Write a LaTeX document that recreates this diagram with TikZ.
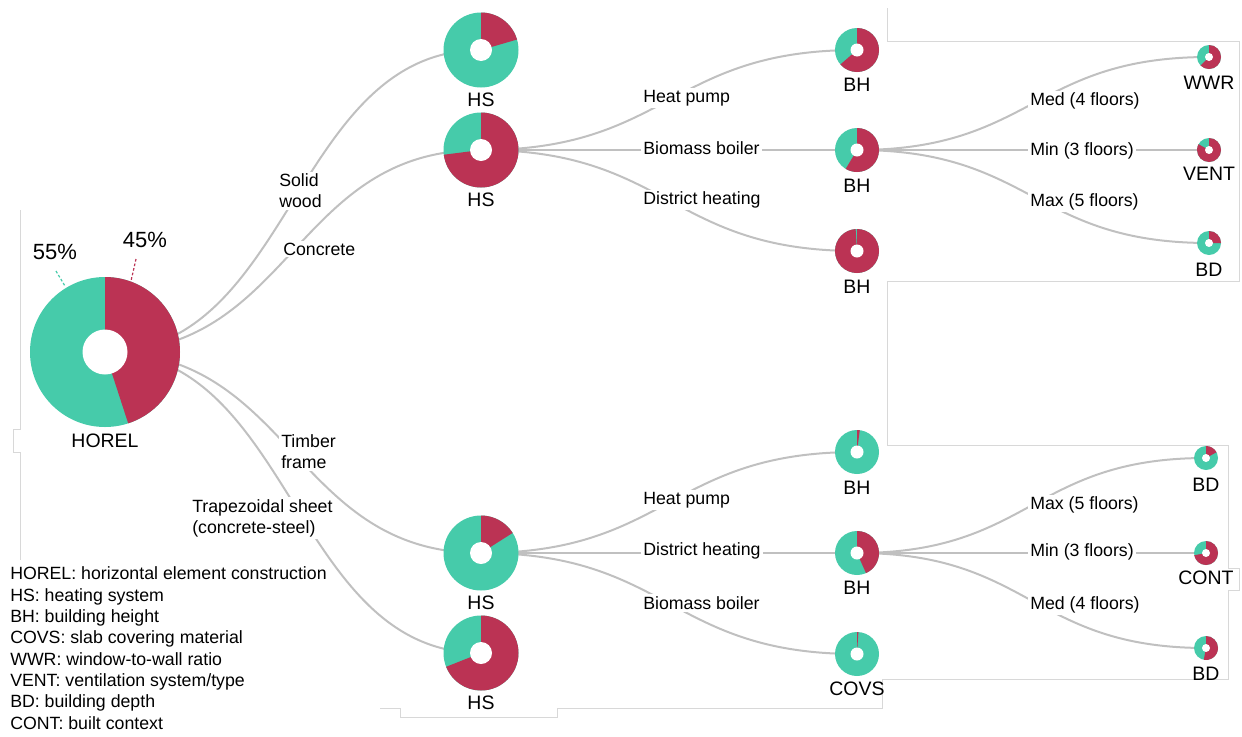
\documentclass[tikz,border=0pt]{standalone}
\usepackage{fontspec}
\setmainfont{Liberation Sans}
\usetikzlibrary{calc,positioning}
\definecolor{hsteal}{RGB}{70,203,170}
\definecolor{hsred}{RGB}{187,51,84}
\definecolor{linkgray}{RGB}{192,192,192}
\definecolor{framegray}{RGB}{216,216,216}

% donut: centre, outer radius, inner radius, red share
\newcommand{\donut}[4]{%
  \fill[hsteal] (#1) circle[radius=#2];
  \fill[hsred] (#1) -- ++(90:#2) arc[start angle=90, end angle={90-360*#4}, radius=#2] -- cycle;
  \fill[white] (#1) circle[radius=#3];
}

\begin{document}
\begin{tikzpicture}[x=0.75pt, y=0.75pt,
  link/.style={draw=linkgray, line width=1.5pt,
    to path={let \p1=(\tikztostart), \p2=(\tikztotarget) in
      .. controls ({0.5*\x1+0.5*\x2},\y1) and ({0.5*\x1+0.5*\x2},\y2) .. (\tikztotarget)}},
  nlbl/.style={font=\fontsize{14.6}{17}\selectfont, inner sep=0pt},
  elbl/.style={font=\fontsize{13.3}{15.8}\selectfont, fill=white, inner sep=1.5pt, anchor=west, align=left},
  legtxt/.style={font=\fontsize{13.3}{15.8}\selectfont, inner sep=0pt, anchor=west, text height=0.73em, text depth=0.21em},
  pct/.style={font=\fontsize{16.5}{19}\selectfont, inner sep=0pt},
  lead/.style={line width=0.9pt, dash pattern=on 2pt off 1.5pt},
  frame/.style={draw=framegray, line width=0.75pt}]
\useasboundingbox (0,0) rectangle (1242,-736);

% faint panel outlines
\draw[frame] (887,-8) -- (887,-41) -- (1239,-41) -- (1239,-281) -- (887,-281) -- (887,-445)
  -- (1228,-445) -- (1228,-568) -- (1239,-568) -- (1239,-590) -- (1228,-590) -- (1228,-679)
  -- (882,-679) -- (882,-708) -- (557,-708) -- (557,-717) -- (400,-717) -- (400,-708) -- (380,-708);
\draw[frame] (20,-210) -- (20,-429) -- (13,-429) -- (13,-452) -- (20,-452) -- (20,-560);

% tree nodes
\coordinate (horel) at (105,-352);
\coordinate (hs1) at (481,-50);
\coordinate (hs2) at (481,-150);
\coordinate (hs3) at (481,-553);
\coordinate (hs4) at (481,-653);
\coordinate (bh1) at (857,-50);
\coordinate (bh2) at (857,-150);
\coordinate (bh3) at (857,-251);
\coordinate (bh4) at (857,-452);
\coordinate (bh5) at (857,-553);
\coordinate (covs) at (857,-654);
\coordinate (wwr) at (1209,-57);
\coordinate (vent) at (1209,-150);
\coordinate (bda) at (1209,-243);
\coordinate (bdb) at (1206,-458);
\coordinate (cont) at (1206,-553);
\coordinate (bdc) at (1206,-648);

% links
\foreach \a/\b in {horel/hs1, horel/hs2, horel/hs3, horel/hs4,
                   hs2/bh1, hs2/bh2, hs2/bh3, hs3/bh4, hs3/bh5, hs3/covs,
                   bh2/wwr, bh2/vent, bh2/bda, bh5/bdb, bh5/cont, bh5/bdc}
  \draw[link] (\a) to (\b);

% donuts
\donut{horel}{75}{22.5}{0.45}
\donut{hs1}{37.5}{11}{0.205}
\donut{hs2}{37.5}{11}{0.73}
\donut{hs3}{37.5}{11}{0.16}
\donut{hs4}{37.5}{11}{0.69}
\donut{bh1}{22}{6.5}{0.636}
\donut{bh2}{22}{6.5}{0.586}
\donut{bh3}{22}{6.5}{0.99}
\donut{bh4}{22}{6.5}{0.02}
\donut{bh5}{22}{6.5}{0.433}
\donut{covs}{22}{6.5}{0.01}
\donut{wwr}{12}{4}{0.625}
\donut{vent}{12}{4}{0.83}
\donut{bda}{12}{4}{0.25}
\donut{bdb}{12}{4}{0.17}
\donut{cont}{12}{4}{0.72}
\donut{bdc}{12}{4}{0.53}

% shares of the root
\node[pct] (p55) at (55,-252) {55\%};
\node[pct] (p45) at (145,-240) {45\%};
\coordinate (l55a) at (56,-271);
\coordinate (l55b) at (65,-286);
\coordinate (l45a) at (136,-259);
\coordinate (l45b) at (131,-281);
\draw[lead, hsteal] (l55a) -- (l55b);
\draw[lead, hsred] (l45a) -- (l45b);

% node names
\node[nlbl] (horel-l) at (105,-441) {HOREL};
\node[nlbl] (hs1-l) at (481,-100) {HS};
\node[nlbl] (hs2-l) at (481,-200) {HS};
\node[nlbl] (hs3-l) at (481,-603) {HS};
\node[nlbl] (hs4-l) at (481,-703) {HS};
\node[nlbl] (bh1-l) at (857,-85) {BH};
\node[nlbl] (bh2-l) at (857,-186) {BH};
\node[nlbl] (bh3-l) at (857,-287) {BH};
\node[nlbl] (bh4-l) at (857,-488) {BH};
\node[nlbl] (bh5-l) at (857,-588) {BH};
\node[nlbl] (covs-l) at (857,-689) {COVS};
\node[nlbl] (wwr-l) at (1209,-83) {WWR};
\node[nlbl] (vent-l) at (1209,-174) {VENT};
\node[nlbl] (bda-l) at (1209,-270) {BD};
\node[nlbl] (bdb-l) at (1206,-485) {BD};
\node[nlbl] (cont-l) at (1206,-578) {CONT};
\node[nlbl] (bdc-l) at (1206,-674) {BD};

% link labels
\node[elbl] (e-wood) at (277,-191) {Solid\\wood};
\node[elbl] (e-conc) at (281,-249) {Concrete};
\node[elbl] (e-timb) at (279,-452) {Timber\\frame};
\node[elbl] (e-trap) at (190,-518) {Trapezoidal sheet\\(concrete-steel)};
\node[elbl] (e-hp1) at (641,-98) {Heat pump};
\node[elbl] (e-bb1) at (641,-148) {Biomass boiler};
\node[elbl] (e-dh1) at (641,-200) {District heating};
\node[elbl] (e-hp2) at (641,-500) {Heat pump};
\node[elbl] (e-dh2) at (641,-551) {District heating};
\node[elbl] (e-bb2) at (641,-603) {Biomass boiler};
\node[elbl] (e-med1) at (1028,-101) {Med (4 floors)};
\node[elbl] (e-min1) at (1028,-151) {Min (3 floors)};
\node[elbl] (e-max1) at (1028,-202) {Max (5 floors)};
\node[elbl] (e-max2) at (1028,-505) {Max (5 floors)};
\node[elbl] (e-min2) at (1028,-552) {Min (3 floors)};
\node[elbl] (e-med2) at (1028,-605) {Med (4 floors)};

% legend
\foreach \t [count=\i from 0] in {HOREL: horizontal element construction, HS: heating system,
    BH: building height, COVS: slab covering material, WWR: window-to-wall ratio,
    VENT: ventilation system/type, BD: building depth, CONT: built context}
  \node[legtxt] (leg\i) at (10,{-576.5-21.3*\i}) {\t};
\end{tikzpicture}
\end{document}
